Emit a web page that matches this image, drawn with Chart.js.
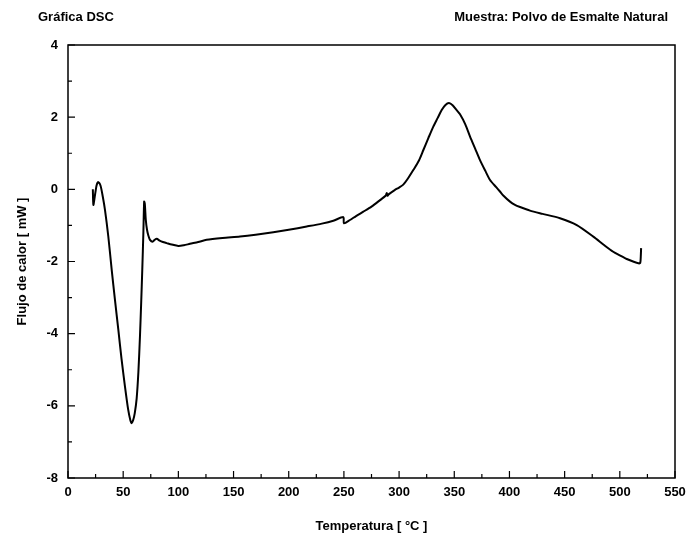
<!DOCTYPE html>
<html>
<head>
<meta charset="utf-8">
<script src="https://cdn.jsdelivr.net/npm/chart.js@4.4.1/dist/chart.umd.min.js"></script>
<style>
  html, body { margin: 0; padding: 0; background: #fff; }
  #wrap { width: 696px; height: 538px; }
</style>
</head>
<body>
<div id="wrap"><canvas id="dsc"></canvas></div>
<script>
// DSC curve
var temperatura = [22.5, 23, 24.5, 26, 27.5, 29.5, 31.5, 33.5, 36.5, 39.6, 42.5, 45.6, 48.5, 51.6, 54.5, 56.5, 57.7, 59, 60.5, 62.2,
  63.8, 65.2, 66.3, 67.3, 68.3, 69, 69.6, 70.5, 71.6, 72.8, 74.3, 76.7, 78.5, 80.4, 83, 86, 89.4, 94, 100, 105,
  110.5, 118, 125.6, 140, 155.9, 170, 186, 200, 216.3, 230, 240.4, 249.5, 250, 255.5, 261, 267.6, 275, 282.7, 288, 288.8,
  289.5, 290.5, 296, 300, 303.8, 308, 313, 318, 322, 326.5, 331, 335, 338.6, 342, 345.2, 348.5, 352, 355.2, 360, 364.3,
  369, 373.3, 378, 382.4, 388, 391.4, 394.4, 400.5, 405, 409.6, 418.6, 430, 445.8, 461, 476, 486, 494, 500, 506.3, 512,
  516.8, 518.5, 519, 519.3];
var flujo = [0.0, -0.43, -0.15, 0.12, 0.2, 0.1, -0.2, -0.57, -1.3, -2.23, -3.05, -3.89, -4.7, -5.46, -6.1, -6.4, -6.48, -6.4, -6.2, -5.8,
  -5.05, -4.08, -3.15, -2.23, -1.2, -0.34, -0.4, -0.85, -1.12, -1.28, -1.40, -1.45, -1.40, -1.37, -1.42, -1.46, -1.49, -1.53, -1.57, -1.55,
  -1.51, -1.46, -1.4, -1.35, -1.31, -1.26, -1.19, -1.12, -1.03, -0.95, -0.87, -0.77, -0.94, -0.85, -0.74, -0.62, -0.48, -0.3, -0.17, -0.1,
  -0.18, -0.14, -0.02, 0.05, 0.13, 0.3, 0.54, 0.8, 1.09, 1.42, 1.74, 1.98, 2.2, 2.34, 2.39, 2.33, 2.2, 2.08, 1.8, 1.46,
  1.12, 0.81, 0.52, 0.26, 0.06, -0.06, -0.17, -0.34, -0.43, -0.49, -0.59, -0.68, -0.8, -0.99, -1.31, -1.55, -1.73, -1.83, -1.93, -2.0,
  -2.05, -2.04, -1.85, -1.63];

var xTicks = [0, 50, 100, 150, 200, 250, 300, 350, 400, 450, 500, 550];
var yTicks = [4, 2, 0, -2, -4, -6, -8];

var tituloIzq = "Gráfica DSC";
var tituloDer = "Muestra: Polvo de Esmalte Natural";

var puntos = temperatura.map(function (t, i) { return { x: t, y: flujo[i] }; });

var fuente = "'Liberation Sans', Arial, sans-serif";

// frame, inward ticks and the two header texts
var marco = {
  id: 'marco',
  afterDraw: function (chart) {
    var c = chart.ctx, a = chart.chartArea;
    var sx = chart.scales.x, sy = chart.scales.y;
    c.save();
    c.strokeStyle = '#000';
    c.lineWidth = 1.5;
    c.strokeRect(a.left, a.top, a.right - a.left, a.bottom - a.top);
    c.lineWidth = 1.2;
    c.beginPath();
    for (var v = 0; v <= 550; v += 25) {
      var px = sx.getPixelForValue(v);
      var len = (v % 50 === 0) ? 7 : 4;
      c.moveTo(px, a.bottom);
      c.lineTo(px, a.bottom - len);
    }
    for (var w = -8; w <= 4; w += 1) {
      var py = sy.getPixelForValue(w);
      var l2 = (w % 2 === 0) ? 7 : 4;
      c.moveTo(a.left, py);
      c.lineTo(a.left + l2, py);
    }
    c.stroke();
    c.fillStyle = '#000';
    c.font = 'bold 13px ' + fuente;
    c.textBaseline = 'middle';
    c.textAlign = 'left';
    c.fillText(tituloIzq, 38, 17);
    c.textAlign = 'right';
    c.fillText(tituloDer, 668, 17);
    c.restore();
  }
};

var ctx = document.getElementById("dsc");
var grafica = new Chart(ctx, {
  type: 'scatter',
  data: {
    datasets: [{
      data: puntos,
      showLine: true,
      borderColor: '#000',
      borderWidth: 2,
      pointRadius: 0,
      tension: 0.25,
      fill: false
    }]
  },
  options: {
    responsive: true,
    maintainAspectRatio: false,
    animation: false,
    layout: { padding: { top: 45, right: 21, left: 0, bottom: 0 } },
    plugins: {
      legend: { display: false },
      tooltip: { enabled: false }
    },
    scales: {
      x: {
        type: 'linear',
        min: 0,
        max: 550,
        afterBuildTicks: function (s) { s.ticks = xTicks.map(function (v) { return { value: v }; }); },
        afterFit: function (s) { s.height = 60; },
        grid: { display: false, drawTicks: false },
        border: { display: false },
        ticks: { color: '#000', padding: 7, maxRotation: 0, font: { family: fuente, size: 13, weight: 'bold' } },
        title: { display: true, text: 'Temperatura [ °C ]', color: '#000', padding: { top: 12 }, font: { family: fuente, size: 13, weight: 'bold' } }
      },
      y: {
        type: 'linear',
        min: -8,
        max: 4,
        afterBuildTicks: function (s) { s.ticks = yTicks.map(function (v) { return { value: v }; }); },
        afterFit: function (s) { s.width = 68; },
        grid: { display: false, drawTicks: false },
        border: { display: false },
        ticks: { color: '#000', padding: 10, font: { family: fuente, size: 13, weight: 'bold' } },
        title: { display: true, text: 'Flujo de calor [ mW ]', color: '#000', padding: { top: 15, bottom: 0 }, font: { family: fuente, size: 13, weight: 'bold' } }
      }
    }
  },
  plugins: [marco]
});
</script>
</body>
</html>
